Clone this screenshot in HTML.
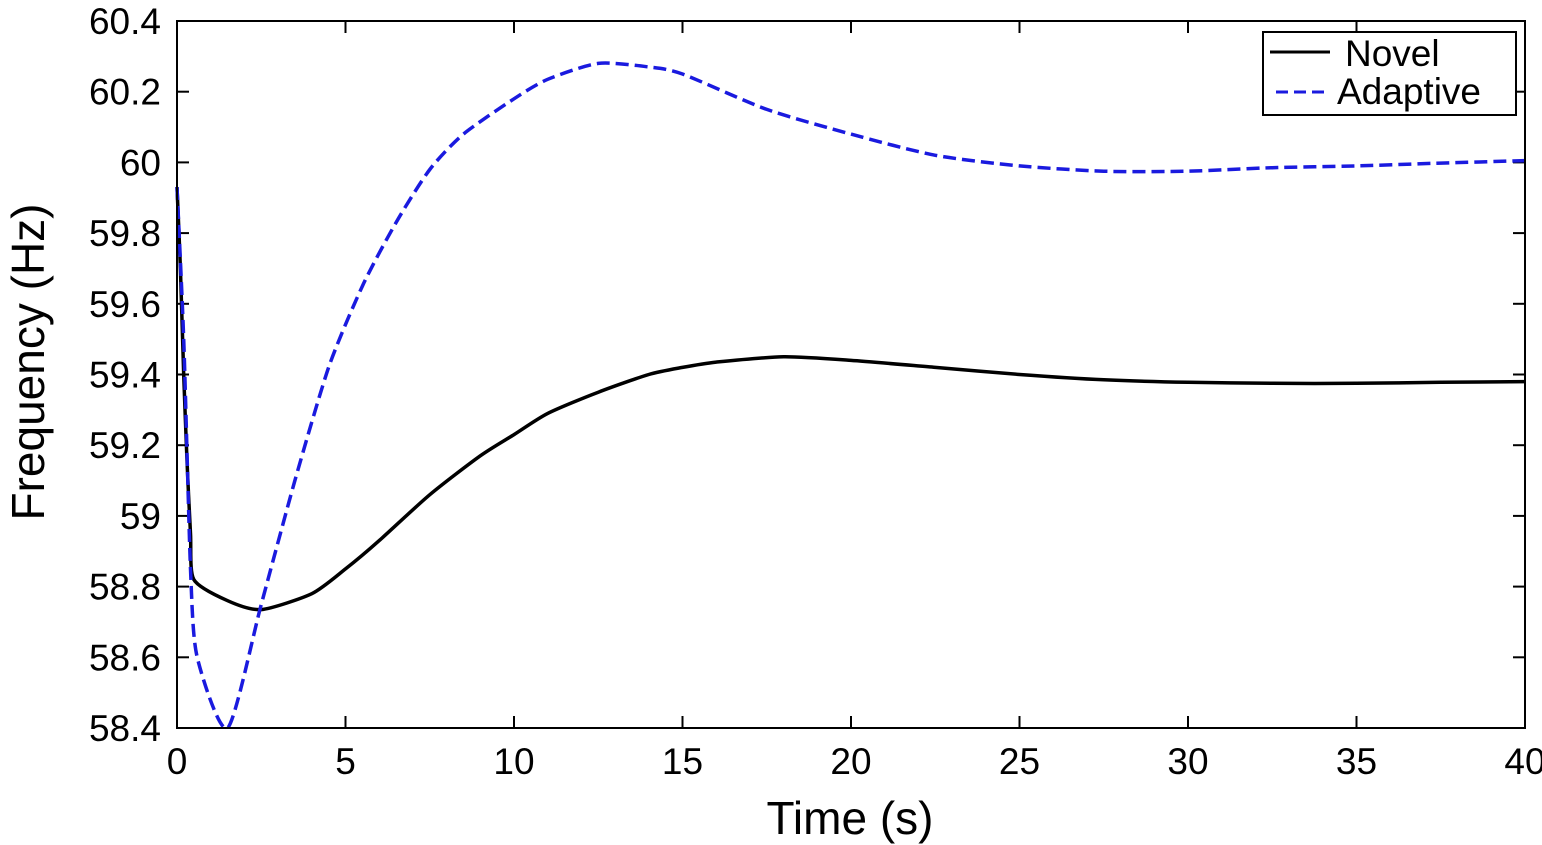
<!DOCTYPE html>
<html><head><meta charset="utf-8"><style>
html,body{margin:0;padding:0;background:#fff;}
svg{display:block;font-family:"Liberation Sans",Arial,sans-serif;}
</style></head><body>
<svg id="chart" width="1542" height="845" viewBox="0 0 1542 845">
<g id="grid-ticks"></g>
<g id="lines"></g>
<rect x="177" y="21" width="1348" height="707" fill="none" stroke="#000" stroke-width="2"/>
<g id="labels"></g>
<text x="850" y="834" font-size="46" text-anchor="middle">Time (s)</text>
<text transform="translate(44,362) rotate(-90)" font-size="46" text-anchor="middle">Frequency (Hz)</text>
<g>
<rect x="1263" y="32" width="253" height="83" fill="#fff" stroke="#000" stroke-width="2"/>
<line x1="1270" y1="52" x2="1330" y2="52" stroke="#000" stroke-width="3"/>
<text x="1345" y="66" font-size="37">Novel</text>
<line x1="1276" y1="92" x2="1330" y2="92" stroke="#1a1adf" stroke-width="3" stroke-dasharray="12,6"/>
<text x="1337" y="104" font-size="37">Adaptive</text>
</g>
</svg>
<script>
const xTicks = [0,5,10,15,20,25,30,35,40];
const yTicks = [58.4,58.6,58.8,59,59.2,59.4,59.6,59.8,60,60.2,60.4];
const yTickLabels = ["58.4","58.6","58.8","59","59.2","59.4","59.6","59.8","60","60.2","60.4"];
const novelT = [0,0.1,0.2,0.3,0.4,0.5,1.5,2.5,4,5,6,7.5,9,10,11,12.5,14,15,16,18,20,22.5,25,27.5,30,32.5,35,37.5,40];
const novelF = [59.93,59.7,59.4,59.15,58.95,58.82,58.76,58.735,58.78,58.85,58.93,59.06,59.17,59.23,59.29,59.35,59.40,59.42,59.435,59.45,59.44,59.42,59.40,59.385,59.378,59.375,59.375,59.378,59.38];
const adaptT = [0,0.2,0.4,0.6,1.5,2.5,3.5,4.5,5.5,6.5,7.5,8.5,10,11,12.5,14,15,17.5,20,22.5,25,27.5,30,32.5,35,37.5,40];
const adaptF = [59.93,59.5,58.85,58.6,58.4,58.75,59.1,59.42,59.65,59.83,59.98,60.08,60.18,60.235,60.28,60.27,60.25,60.15,60.08,60.02,59.99,59.975,59.975,59.985,59.99,59.998,60.005];

const X0=177,X1=1525,Y0=728,Y1=21;
const xs=t=>X0+(t-0)/(40-0)*(X1-X0);
const ys=v=>Y0-(v-58.4)/(60.4-58.4)*(Y0-Y1);
const NS="http://www.w3.org/2000/svg";
const tg=document.getElementById('grid-ticks'), lg=document.getElementById('labels'), ln=document.getElementById('lines');
function mk(tag,attrs,parent){const e=document.createElementNS(NS,tag);for(const k in attrs)e.setAttribute(k,attrs[k]);parent.appendChild(e);return e;}
xTicks.forEach(t=>{
  const x=xs(t);
  const a=mk('line',{x1:x,y1:Y0,x2:x,y2:Y0-12,stroke:'#000','stroke-width':2},tg);
  
  
  const b=mk('line',{x1:x,y1:Y1,x2:x,y2:Y1+12,stroke:'#000','stroke-width':2},tg);
  
  
  const l=mk('text',{x:x,y:774,'font-size':37,'text-anchor':'middle'},lg);
  l.textContent=String(t);
  
  
});
yTicks.forEach((v,i)=>{
  const y=ys(v);
  const a=mk('line',{x1:X0,y1:y,x2:X0+12,y2:y,stroke:'#000','stroke-width':2},tg);
  
  
  const b=mk('line',{x1:X1,y1:y,x2:X1-12,y2:y,stroke:'#000','stroke-width':2},tg);
  
  
  const l=mk('text',{x:161,y:y+13,'font-size':37,'text-anchor':'end'},lg);
  l.textContent=yTickLabels[i];
  
  
});
function path(T,F){
  const P=T.map((t,i)=>[xs(t),ys(F[i])]);
  let d='M'+P[0][0].toFixed(1)+','+P[0][1].toFixed(1);
  for(let i=0;i<P.length-1;i++){
    const p0=P[Math.max(0,i-1)],p1=P[i],p2=P[i+1],p3=P[Math.min(P.length-1,i+2)];
    const k=0.12;
    const c1=[p1[0]+(p2[0]-p0[0])*k,p1[1]+(p2[1]-p0[1])*k];
    const c2=[p2[0]-(p3[0]-p1[0])*k,p2[1]-(p3[1]-p1[1])*k];
    d+=' C'+c1[0].toFixed(1)+','+c1[1].toFixed(1)+' '+c2[0].toFixed(1)+','+c2[1].toFixed(1)+' '+p2[0].toFixed(1)+','+p2[1].toFixed(1);
  }
  return d;
}
const pn=mk('path',{d:path(novelT,novelF),fill:'none',stroke:'#000','stroke-width':3.5,'stroke-linejoin':'round'},ln);


const pa=mk('path',{d:path(adaptT,adaptF),fill:'none',stroke:'#1a1adf','stroke-width':3.5,'stroke-dasharray':'13,6','stroke-linejoin':'round'},ln);


</script>
</body></html>
